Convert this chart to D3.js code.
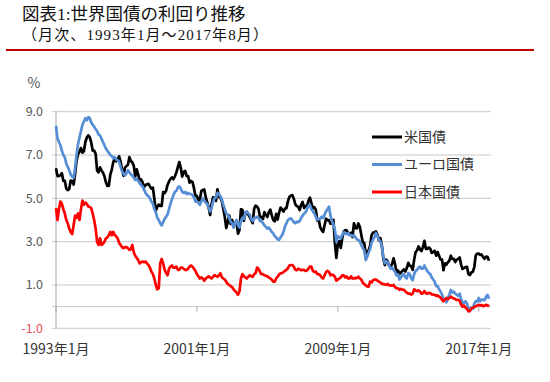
<!DOCTYPE html>
<html>
<head>
<meta charset="utf-8">
<script src="https://cdn.jsdelivr.net/npm/d3@7"></script>
<style>
  body { margin: 0; background: #fff; }
  svg { display: block; }
</style>
</head>
<body>
<svg id="chart" width="550" height="382"></svg>
<script>
// monthly yields, 1993-01 .. 2017-08 (%)
const seriesNames = ['米国債', 'ユーロ国債', '日本国債'];

const usYield = [
  6.39, 6.03, 6.03, 6.06, 6.16, 5.80, 5.81, 5.45, 5.38, 5.43, 5.82, 5.79, // 1993
  5.64, 6.13, 6.74, 7.04, 7.15, 7.32, 7.11, 7.17, 7.60, 7.81, 7.91, 7.82, // 1994
  7.58, 7.20, 7.20, 7.06, 6.28, 6.20, 6.43, 6.28, 6.18, 6.02, 5.74, 5.57, // 1995
  5.58, 6.10, 6.33, 6.67, 6.85, 6.71, 6.79, 6.94, 6.70, 6.34, 6.04, 6.42, // 1996
  6.49, 6.55, 6.90, 6.72, 6.66, 6.50, 6.01, 6.34, 6.10, 5.83, 5.87, 5.74, // 1997
  5.51, 5.62, 5.65, 5.67, 5.55, 5.45, 5.49, 4.98, 4.42, 4.61, 4.71, 4.65, // 1998
  4.65, 5.29, 5.24, 5.35, 5.62, 5.78, 5.90, 5.97, 5.88, 6.02, 6.19, 6.44, // 1999
  6.67, 6.41, 6.00, 6.21, 6.27, 6.03, 6.03, 5.72, 5.80, 5.75, 5.47, 5.11, // 2000
  5.11, 4.90, 4.92, 5.34, 5.38, 5.41, 5.05, 4.84, 4.59, 4.23, 4.75, 5.05, // 2001
  5.03, 4.88, 5.42, 5.08, 5.04, 4.86, 4.51, 4.14, 3.63, 3.89, 4.21, 3.82, // 2002
  4.00, 3.70, 3.83, 3.89, 3.37, 3.54, 4.49, 4.47, 3.96, 4.33, 4.34, 4.25, // 2003
  4.13, 3.99, 3.86, 4.53, 4.66, 4.62, 4.50, 4.13, 4.14, 4.05, 4.36, 4.24, // 2004
  4.14, 4.36, 4.48, 4.21, 4.00, 3.94, 4.28, 4.02, 4.34, 4.57, 4.49, 4.39, // 2005
  4.53, 4.55, 4.86, 5.07, 5.12, 5.15, 4.99, 4.74, 4.64, 4.61, 4.46, 4.71, // 2006
  4.83, 4.56, 4.65, 4.63, 4.89, 5.03, 4.78, 4.54, 4.59, 4.48, 3.97, 4.04, // 2007
  3.67, 3.53, 3.45, 3.77, 4.06, 3.99, 3.99, 3.83, 3.85, 4.01, 2.93, 2.25, // 2008
  2.87, 3.02, 2.71, 3.16, 3.47, 3.53, 3.52, 3.40, 3.31, 3.41, 3.21, 3.85, // 2009
  3.63, 3.61, 3.84, 3.69, 3.31, 2.97, 2.94, 2.47, 2.52, 2.60, 2.81, 3.30, // 2010
  3.42, 3.43, 3.47, 3.32, 3.06, 3.16, 2.82, 2.23, 1.92, 2.17, 2.08, 1.89, // 2011
  1.83, 1.98, 2.23, 1.95, 1.59, 1.67, 1.51, 1.57, 1.65, 1.72, 1.62, 1.78, // 2012
  2.02, 1.89, 1.87, 1.70, 2.16, 2.52, 2.60, 2.78, 2.64, 2.57, 2.75, 3.04, // 2013
  2.67, 2.66, 2.73, 2.67, 2.48, 2.53, 2.58, 2.35, 2.52, 2.35, 2.18, 2.17, // 2014
  1.68, 2.00, 1.94, 2.05, 2.12, 2.35, 2.20, 2.21, 2.06, 2.16, 2.21, 2.27, // 2015
  1.94, 1.74, 1.78, 1.83, 1.84, 1.49, 1.46, 1.58, 1.60, 1.84, 2.37, 2.45, // 2016
  2.45, 2.39, 2.40, 2.29, 2.21, 2.31, 2.30, 2.12                          // 2017
];

const euroYield = [
  8.35, 7.77, 7.60, 7.46, 7.20, 7.00, 6.90, 6.60, 6.46, 6.30, 6.10, 6.00, // 1993
  5.95, 6.40, 7.00, 7.50, 7.80, 8.10, 8.40, 8.55, 8.70, 8.60, 8.75, 8.70, // 1994
  8.50, 8.40, 8.30, 8.20, 8.10, 7.95, 7.90, 7.75, 7.60, 7.45, 7.30, 7.20, // 1995
  7.10, 7.00, 6.95, 6.85, 6.90, 6.80, 6.75, 6.70, 6.45, 6.25, 6.15, 6.05, // 1996
  6.15, 6.30, 6.20, 6.10, 6.05, 5.95, 5.85, 5.90, 5.80, 5.70, 5.60, 5.55, // 1997
  5.40, 5.25, 5.15, 5.10, 5.00, 4.85, 4.75, 4.50, 4.35, 4.10, 4.00, 3.85, // 1998
  3.75, 3.90, 4.05, 4.15, 4.25, 4.50, 4.75, 4.95, 5.15, 5.30, 5.35, 5.50, // 1999
  5.55, 5.45, 5.30, 5.25, 5.30, 5.20, 5.25, 5.20, 5.20, 5.15, 5.05, 4.85, // 2000
  4.85, 4.80, 4.70, 4.85, 5.00, 4.90, 4.80, 4.75, 4.55, 4.40, 4.55, 4.85, // 2001
  5.00, 5.05, 5.25, 5.20, 5.10, 4.95, 4.70, 4.50, 4.30, 4.25, 4.10, 3.92, // 2002
  3.85, 3.65, 3.85, 4.00, 3.75, 3.65, 3.95, 4.10, 4.05, 4.35, 4.40, 4.30, // 2003
  4.25, 4.05, 3.95, 4.10, 4.10, 4.15, 4.10, 3.95, 3.95, 3.85, 3.75, 3.68, // 2004
  3.60, 3.65, 3.55, 3.45, 3.38, 3.25, 3.20, 3.10, 3.08, 3.20, 3.30, 3.45, // 2005
  3.70, 3.85, 4.00, 4.05, 4.08, 4.00, 3.90, 3.85, 3.92, 3.90, 3.95, 4.10, // 2006
  4.20, 4.30, 4.35, 4.50, 4.65, 4.70, 4.50, 4.40, 4.30, 4.15, 4.00, 4.05, // 2007
  4.05, 4.15, 4.10, 4.25, 4.40, 4.50, 4.62, 4.20, 3.95, 3.80, 3.55, 3.00, // 2008
  3.25, 3.20, 3.15, 3.30, 3.45, 3.38, 3.35, 3.40, 3.30, 3.30, 3.25, 3.30, // 2009
  3.20, 3.10, 3.08, 3.00, 2.85, 2.70, 2.60, 2.15, 2.30, 2.50, 2.65, 2.95, // 2010
  3.10, 3.20, 3.40, 3.25, 3.10, 3.00, 2.80, 2.30, 2.00, 2.10, 2.05, 1.90, // 2011
  1.75, 1.80, 1.70, 1.60, 1.45, 1.50, 1.25, 1.35, 1.45, 1.50, 1.35, 1.30, // 2012
  1.55, 1.50, 1.30, 1.22, 1.50, 1.65, 1.70, 1.80, 1.85, 1.75, 1.75, 1.90, // 2013
  1.75, 1.65, 1.55, 1.50, 1.35, 1.25, 1.15, 0.95, 0.95, 0.80, 0.70, 0.55, // 2014
  0.35, 0.33, 0.20, 0.40, 0.55, 0.77, 0.65, 0.70, 0.60, 0.55, 0.50, 0.60, // 2015
  0.35, 0.15, 0.18, 0.25, 0.15, -0.10, -0.10, -0.05, -0.10, 0.15, 0.25, 0.22, // 2016
  0.40, 0.25, 0.33, 0.32, 0.30, 0.46, 0.54, 0.36                          // 2017
];

const jpYield = [
  4.55, 4.00, 4.50, 4.85, 4.75, 4.50, 4.30, 4.00, 3.85, 3.60, 3.45, 3.35, // 1993
  3.75, 4.20, 4.10, 4.30, 4.00, 4.50, 4.90, 4.70, 4.80, 4.75, 4.62, 4.60, // 1994
  4.55, 4.30, 4.00, 3.60, 3.00, 2.85, 3.15, 2.85, 2.90, 3.00, 3.15, 3.20, // 1995
  3.30, 3.45, 3.30, 3.45, 3.30, 3.25, 3.15, 2.95, 2.85, 2.75, 2.70, 2.75, // 1996
  2.75, 2.70, 2.62, 2.65, 2.85, 2.50, 2.35, 2.25, 2.15, 2.00, 2.05, 2.08, // 1997
  2.05, 2.08, 2.00, 1.92, 1.80, 1.62, 1.50, 1.30, 1.00, 0.80, 0.85, 2.00, // 1998
  2.20, 2.00, 1.70, 1.55, 1.45, 1.75, 1.85, 1.90, 1.80, 1.80, 1.85, 1.70, // 1999
  1.70, 1.80, 1.80, 1.75, 1.70, 1.70, 1.75, 1.85, 1.90, 1.85, 1.75, 1.65, // 2000
  1.50, 1.40, 1.30, 1.35, 1.30, 1.20, 1.30, 1.35, 1.40, 1.35, 1.30, 1.38, // 2001
  1.45, 1.42, 1.38, 1.45, 1.54, 1.35, 1.30, 1.25, 1.15, 1.05, 1.00, 0.95, // 2002
  0.90, 0.80, 0.72, 0.65, 0.55, 0.70, 1.30, 1.50, 1.40, 1.35, 1.30, 1.38, // 2003
  1.45, 1.40, 1.38, 1.50, 1.55, 1.80, 1.75, 1.60, 1.50, 1.50, 1.45, 1.42, // 2004
  1.40, 1.35, 1.30, 1.25, 1.15, 1.15, 1.30, 1.38, 1.48, 1.54, 1.55, 1.60, // 2005
  1.65, 1.70, 1.77, 1.90, 1.92, 1.92, 1.85, 1.70, 1.68, 1.75, 1.72, 1.68, // 2006
  1.70, 1.69, 1.65, 1.68, 1.75, 1.85, 1.85, 1.65, 1.60, 1.62, 1.50, 1.50, // 2007
  1.45, 1.35, 1.30, 1.45, 1.60, 1.65, 1.60, 1.45, 1.48, 1.45, 1.38, 1.20, // 2008
  1.25, 1.30, 1.35, 1.45, 1.45, 1.35, 1.40, 1.30, 1.30, 1.40, 1.30, 1.30, // 2009
  1.33, 1.32, 1.38, 1.30, 1.25, 1.10, 1.05, 0.98, 0.93, 0.92, 1.15, 1.12, // 2010
  1.22, 1.25, 1.25, 1.20, 1.15, 1.12, 1.05, 1.05, 1.02, 1.00, 1.05, 0.98, // 2011
  0.98, 0.97, 1.00, 0.90, 0.85, 0.85, 0.78, 0.82, 0.78, 0.78, 0.70, 0.65, // 2012
  0.60, 0.60, 0.56, 0.60, 0.80, 0.75, 0.72, 0.75, 0.70, 0.60, 0.62, 0.72, // 2013
  0.62, 0.60, 0.64, 0.62, 0.57, 0.56, 0.54, 0.50, 0.52, 0.46, 0.42, 0.32, // 2014
  0.25, 0.33, 0.40, 0.35, 0.40, 0.46, 0.41, 0.38, 0.35, 0.31, 0.31, 0.27, // 2015
  0.10, 0.00, 0.05, -0.05, -0.10, -0.22, -0.20, -0.08, -0.05, -0.02, 0.02, 0.05, // 2016
  0.08, 0.06, 0.07, 0.02, 0.05, 0.08, 0.06, 0.01                          // 2017
];

const yTicks = [-1, 1, 3, 5, 7, 9];
const gridValues = [0, 1, 3, 5, 7, 9];
const xTickLabels = ['1993年1月', '2001年1月', '2009年1月', '2017年1月'];
const xTickIndex = [0, 96, 192, 288];

const colors = ['#000000', '#558ed5', '#ff0000'];
const jpFont = '"Noto Sans CJK JP", sans-serif';
const titleFont = '"Liberation Serif", "Noto Sans CJK JP", serif';

const svg = d3.select('#chart');

svg.append('rect').attr('width', 550).attr('height', 382).attr('fill', '#fff');

// title
svg.append('text')
  .attr('x', 22).attr('y', 19.5)
  .style('font-family', titleFont).style('font-size', '17.5px')
  .attr('fill', '#111')
  .text('図表1:世界国債の利回り推移');
svg.append('text')
  .attr('x', 22).attr('y', 39.5)
  .style('font-family', titleFont).style('font-size', '15px')
  .style('letter-spacing', '1.1px')
  .attr('fill', '#111')
  .text('（月次、1993年1月～2017年8月）');
svg.append('line')
  .attr('x1', 6).attr('x2', 534).attr('y1', 50).attr('y2', 50)
  .attr('stroke', '#c00000').attr('stroke-width', 2);

const x = d3.scaleLinear().domain([0, usYield.length - 1]).range([56, 489]);
const y = d3.scaleLinear().domain([-1, 9]).range([328.3, 111.7]);

// gridlines
svg.append('g')
  .selectAll('line')
  .data(gridValues)
  .enter()
  .append('line')
  .attr('x1', 52).attr('x2', 491)
  .attr('y1', (d) => y(d)).attr('y2', (d) => y(d))
  .attr('stroke', '#c8c8c8').attr('stroke-width', 1);

// bottom line of plot area
svg.append('line')
  .attr('x1', 52).attr('x2', 491).attr('y1', y(-1)).attr('y2', y(-1))
  .attr('stroke', '#c8c8c8');

// y axis
svg.append('line')
  .attr('x1', 56).attr('x2', 56).attr('y1', y(9)).attr('y2', y(-1))
  .attr('stroke', '#a6a6a6');

svg.append('g')
  .selectAll('text')
  .data(yTicks)
  .enter()
  .append('text')
  .attr('x', 43).attr('y', (d) => y(d))
  .attr('dy', '0.35em')
  .attr('text-anchor', 'end')
  .style('font-family', jpFont).style('font-size', '12.5px')
  .attr('fill', (d) => (d < 0 ? '#e8505a' : '#595959'))
  .text((d) => d3.format('.1f')(d).replace('−', '-'));

svg.append('text')
  .attr('x', 34).attr('y', 83).attr('dy', '0.35em')
  .attr('text-anchor', 'middle')
  .style('font-family', jpFont).style('font-size', '14px')
  .attr('fill', '#595959')
  .text('%');

// x axis tick marks (axis crosses at 0)
svg.append('g')
  .selectAll('line')
  .data(xTickIndex)
  .enter()
  .append('line')
  .attr('x1', (d) => x(d)).attr('x2', (d) => x(d))
  .attr('y1', y(0)).attr('y2', y(0) + 5)
  .attr('stroke', '#a6a6a6');

svg.append('g')
  .selectAll('text')
  .data(xTickLabels)
  .enter()
  .append('text')
  .attr('x', (d, i) => x(xTickIndex[i]))
  .attr('y', 349).attr('dy', '0.35em')
  .attr('text-anchor', 'middle')
  .style('font-family', jpFont).style('font-size', '14px')
  .attr('fill', '#333')
  .text((d) => d);

// series
const line = d3.line()
  .x((d, i) => x(i))
  .y((d) => y(d));

svg.append('g')
  .selectAll('path')
  .data([usYield, euroYield, jpYield])
  .enter()
  .append('path')
  .attr('d', (d) => line(d))
  .attr('fill', 'none')
  .attr('stroke', (d, i) => colors[i])
  .attr('stroke-width', 2.7)
  .attr('stroke-linejoin', 'round');

// legend
const legend = svg.append('g');
legend.selectAll('line')
  .data(seriesNames)
  .enter()
  .append('line')
  .attr('x1', 372).attr('x2', 402)
  .attr('y1', (d, i) => 137 + i * 27.5).attr('y2', (d, i) => 137 + i * 27.5)
  .attr('stroke', (d, i) => colors[i])
  .attr('stroke-width', 3);
legend.selectAll('text')
  .data(seriesNames)
  .enter()
  .append('text')
  .attr('x', 404)
  .attr('y', (d, i) => 137 + i * 27.5).attr('dy', '0.35em')
  .style('font-family', jpFont).style('font-size', '14px')
  .attr('fill', '#333')
  .text((d) => d);
</script>
</body>
</html>
